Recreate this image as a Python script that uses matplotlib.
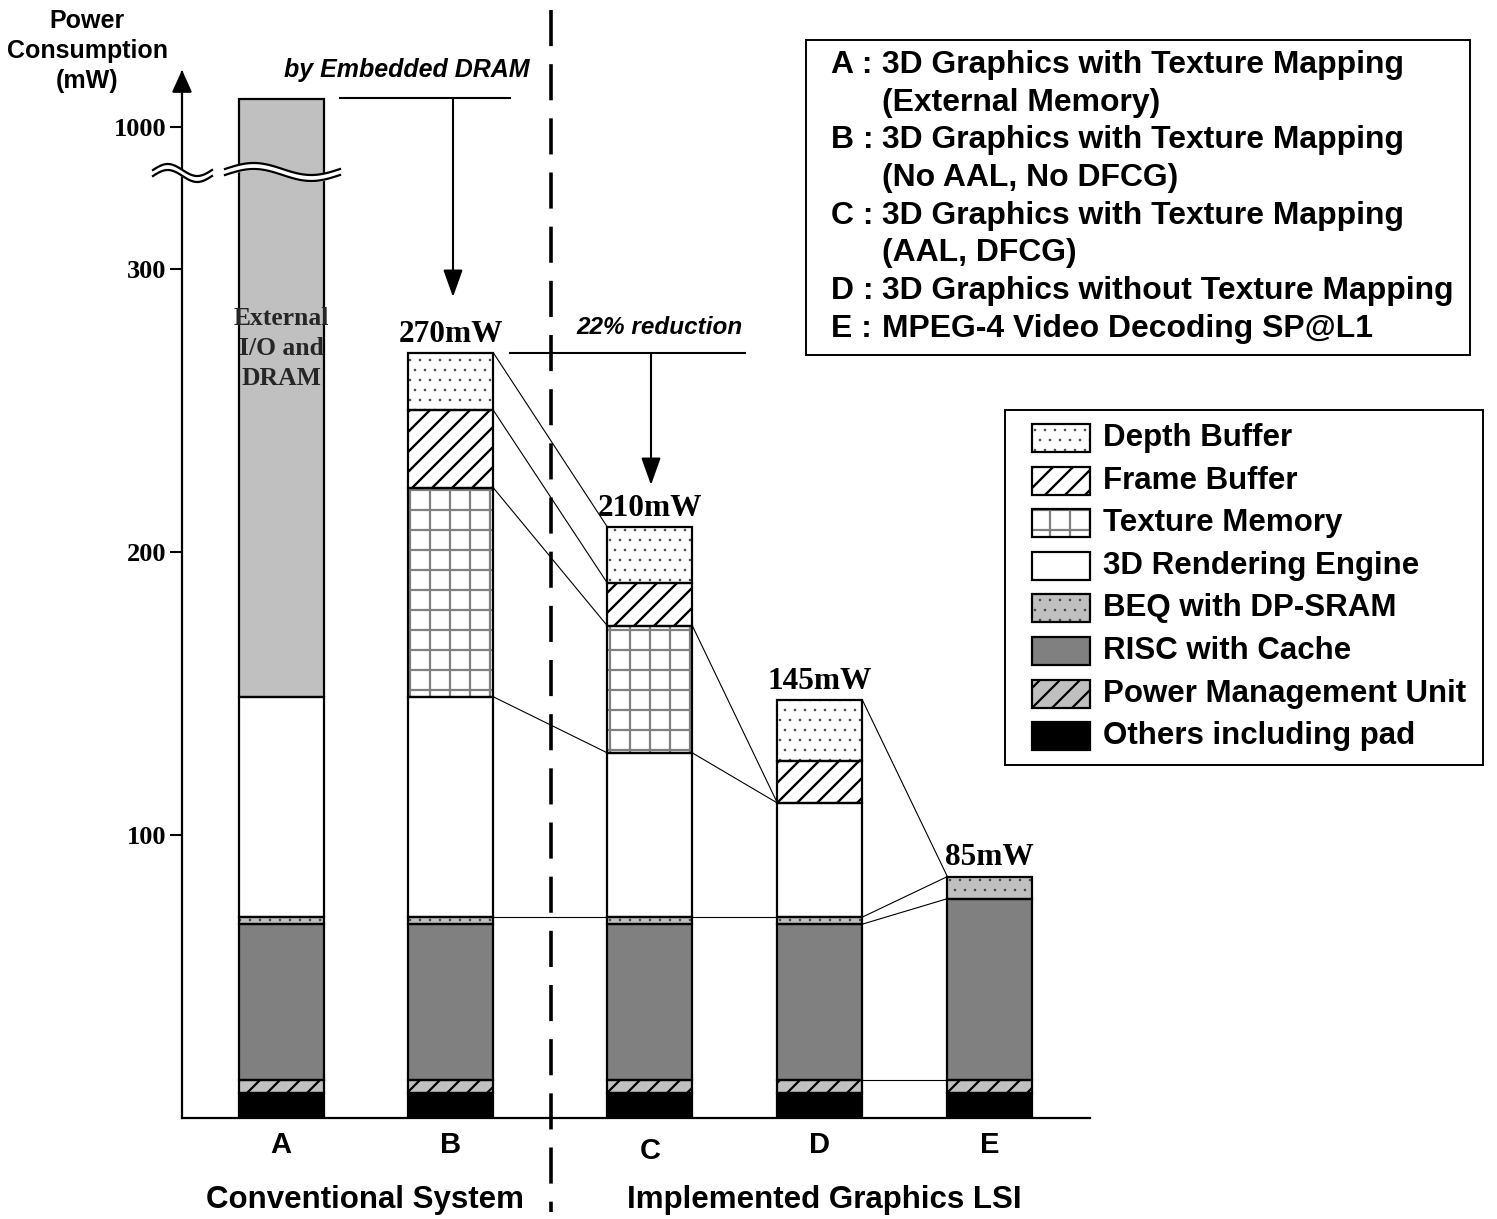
import numpy as np
import matplotlib
matplotlib.use("Agg")
import matplotlib.pyplot as plt
from matplotlib.patches import Rectangle, Polygon

SANS = "Liberation Sans"
SERIF = "Liberation Serif"

# ---- data (mW) ----
bars = ["A", "B", "C", "D", "E"]
others = [9, 9, 9, 9, 9]
pmu = [4.5, 4.5, 4.5, 4.5, 4.5]
risc = [55, 55, 55, 55, 64]
beq = [2.5, 2.5, 2.5, 2.5, 7.8]
rendering = [77.8, 77.8, 58, 40.3, 0]
texture = [0, 73.8, 44.9, 0, 0]
frame = [0, 27.4, 15.1, 14.8, 0]
depth = [0, 20.3, 19.8, 21.6, 0]
external = [891, 0, 0, 0, 0]
total_labels = ["", "270mW", "210mW", "145mW", "85mW"]
yticks = [100, 200, 300, 1000]

layer_names = ["Others including pad", "Power Management Unit", "RISC with Cache",
               "BEQ with DP-SRAM", "3D Rendering Engine", "Texture Memory",
               "Frame Buffer", "Depth Buffer", "External I/O and DRAM"]
layers = [others, pmu, risc, beq, rendering, texture, frame, depth, external]

# (from bar, boundary, to bar, boundary); boundary k = top of layer k
links = [(1, 7, 2, 7), (1, 6, 2, 6), (1, 5, 2, 5), (1, 4, 2, 4), (1, 3, 2, 3),
         (2, 5, 3, 5), (2, 4, 3, 4), (2, 3, 3, 3),
         (3, 7, 4, 7), (3, 3, 4, 3), (3, 2, 4, 2), (3, 1, 4, 1)]

scenarios = [("A :", "3D Graphics with Texture Mapping", "(External Memory)"),
             ("B :", "3D Graphics with Texture Mapping", "(No AAL, No DFCG)"),
             ("C :", "3D Graphics with Texture Mapping", "(AAL, DFCG)"),
             ("D :", "3D Graphics without Texture Mapping", None),
             ("E :", "MPEG-4 Video Decoding SP@L1", None)]

# saved at 120 dpi so the hatch spacing matches; sizes below are scaled by K
DPI = 120
K = 100 / DPI

styles = {
    "Others including pad": dict(fc="black", hatch=None, hc="black", hlw=1),
    "Power Management Unit": dict(fc="#c0c0c0", hatch="//", hc="black", hlw=1.6),
    "RISC with Cache": dict(fc="#808080", hatch=None, hc="black", hlw=1),
    "BEQ with DP-SRAM": dict(fc="#c0c0c0", hatch="..", hc="#404040", hlw=0.4),
    "3D Rendering Engine": dict(fc="white", hatch=None, hc="black", hlw=1),
    "Texture Memory": dict(fc="white", hatch="+", hc="#808080", hlw=1.6),
    "Frame Buffer": dict(fc="white", hatch="//", hc="black", hlw=1.7),
    "Depth Buffer": dict(fc="white", hatch="..", hc="#404040", hlw=0.4),
    "External I/O and DRAM": dict(fc="#c0c0c0", hatch=None, hc="black", hlw=1),
}
legend_order = ["Depth Buffer", "Frame Buffer", "Texture Memory", "3D Rendering Engine",
                "BEQ with DP-SRAM", "RISC with Cache", "Power Management Unit",
                "Others including pad"]

xpos = np.array([0, 1, 2.17, 3.17, 4.17])
width = 0.5
label_dy = [0, 0, -2, 0, 0]


def ybreak(v):
    # linear up to 300, compressed above the axis break
    v = np.asarray(v, dtype=float)
    return np.where(v <= 320, v, 350.2 + (v - 1000) * 0.25)


def hatch_lw(p, lw):
    if hasattr(p, "set_hatch_linewidth"):
        p.set_hatch_linewidth(lw * K)


plt.rcParams["hatch.linewidth"] = 1.5 * K
W, H = 1497, 1219
fig = plt.figure(figsize=(W / DPI, H / DPI), dpi=DPI)
ax = fig.add_axes([182 / W, (H - 1118) / H, (1090 - 182) / W, (1118 - 72) / H])
ax.set_xlim(-0.5824, 4.759)
ax.set_ylim(0, 369.6)

cum = np.zeros((len(layers) + 1, len(bars)))
for k, vals in enumerate(layers):
    cum[k + 1] = cum[k] + np.array(vals)
disp = ybreak(cum)

for k, name in enumerate(layer_names):
    st = styles[name]
    bottom = disp[k]
    height = disp[k + 1] - disp[k]
    mask = np.array(layers[k]) > 0
    if not mask.any():
        continue
    fill = ax.bar(xpos[mask], height[mask], width, bottom=bottom[mask], color=st["fc"],
                  edgecolor=st["hc"], linewidth=0, hatch=st["hatch"], zorder=2)
    for p in fill:
        hatch_lw(p, st["hlw"])
    ax.bar(xpos[mask], height[mask], width, bottom=bottom[mask], facecolor="none",
           edgecolor="black", linewidth=1.6 * K, zorder=3)

for i, ki, j, kj in links:
    ax.plot([xpos[i] + width / 2, xpos[j] - width / 2], [disp[ki + 1][i], disp[kj + 1][j]],
            color="black", lw=0.8 * K, zorder=1)

for i, lab in enumerate(total_labels):
    if lab:
        ax.text(xpos[i], disp[-1][i] + 4, lab, ha="center", va="baseline",
                fontfamily=SERIF, fontweight="bold", fontsize=22.5 * K)

ax.text(xpos[0], 272, "External\nI/O and\nDRAM", ha="center", va="center", linespacing=1.4,
        fontfamily=SERIF, fontweight="bold", fontsize=18.5 * K, color="#262626", zorder=4)

for i, b in enumerate(bars):
    ax.text(xpos[i], -9.5 + label_dy[i], b, ha="center", va="center",
            fontfamily=SANS, fontweight="bold", fontsize=21 * K, clip_on=False)

ax.set_xticks([])
ax.set_yticks(ybreak(yticks))
ax.set_yticklabels([str(t) for t in yticks], fontfamily=SERIF, fontweight="bold",
                   fontsize=19 * K)
ax.tick_params(axis="y", direction="out", length=9 * K, width=1.5 * K, pad=2 * K)
for s in ["top", "right"]:
    ax.spines[s].set_visible(False)
ax.spines["left"].set_linewidth(1.6 * K)
ax.spines["bottom"].set_linewidth(1.6 * K)
ax.patch.set_alpha(0)

# ---- overlay in pixel coordinates for annotations ----
ov = fig.add_axes([0, 0, 1, 1])
ov.set_xlim(0, W)
ov.set_ylim(H, 0)
ov.axis("off")
ov.patch.set_alpha(0)

# y axis arrow head
ov.add_patch(Polygon([[173, 92], [191, 92], [182, 72]], closed=True, fc="black", ec="black"))


def squiggle(x0, x1, yc, amp, gap):
    xs = np.linspace(x0, x1, 80)
    y = yc - amp * np.sin((xs - x0) / (x1 - x0) * 2 * np.pi)
    ov.fill_between(xs, y - gap / 2, y + gap / 2, color="white", zorder=5)
    ov.plot(xs, y - gap / 2, color="black", lw=1.6 * K, zorder=6)
    ov.plot(xs, y + gap / 2, color="black", lw=1.6 * K, zorder=6)


squiggle(153, 212, 173, 6, 6)
squiggle(225, 340, 172, 6, 6)

ov.text(87, 51, "Power\nConsumption\n(mW)", ha="center", va="center", linespacing=1.3,
        fontfamily=SANS, fontweight="bold", fontsize=18 * K)

# dashed separator
ov.plot([551, 551], [10, 1212], color="black", lw=2.6 * K, linestyle=(0, (10, 5)))

# annotations
head = "-|>,head_length=1.4,head_width=0.5"
ov.text(407, 70, "by Embedded DRAM", ha="center", va="center", fontfamily=SANS,
        fontweight="bold", fontstyle="italic", fontsize=18 * K)
ov.plot([340, 510], [98, 98], color="black", lw=1.5 * K)
ov.annotate("", xy=(453, 297), xytext=(453, 98),
            arrowprops=dict(arrowstyle=head, color="black", lw=1.5 * K, shrinkA=0, shrinkB=0))
ov.text(660, 327, "22% reduction", ha="center", va="center", fontfamily=SANS,
        fontweight="bold", fontstyle="italic", fontsize=17.5 * K)
ov.plot([510, 745], [353, 353], color="black", lw=1.5 * K)
ov.annotate("", xy=(651, 485), xytext=(651, 353),
            arrowprops=dict(arrowstyle=head, color="black", lw=1.5 * K, shrinkA=0, shrinkB=0))

ov.text(365, 1200, "Conventional System", ha="center", va="center", fontfamily=SANS,
        fontweight="bold", fontsize=22.5 * K)
ov.text(824, 1200, "Implemented Graphics LSI", ha="center", va="center", fontfamily=SANS,
        fontweight="bold", fontsize=22.5 * K)

# scenario legend
ov.add_patch(Rectangle((806, 40), 664, 315, fc="white", ec="black", lw=1.4 * K))
row = 0
for pre, line1, line2 in scenarios:
    y = 65 + row * 37.7
    ov.text(831, y, pre, ha="left", va="center", fontfamily=SANS, fontweight="bold",
            fontsize=23 * K)
    ov.text(882, y, line1, ha="left", va="center", fontfamily=SANS, fontweight="bold",
            fontsize=23 * K)
    row += 1
    if line2:
        ov.text(882, 65 + row * 37.7, line2, ha="left", va="center", fontfamily=SANS,
                fontweight="bold", fontsize=23 * K)
        row += 1

# component legend
ov.add_patch(Rectangle((1005, 410), 478, 355, fc="white", ec="black", lw=1.4 * K))
for i, name in enumerate(legend_order):
    st = styles[name]
    yc = 438 + i * 42.6
    p = Rectangle((1032, yc - 14), 58, 28, fc=st["fc"], ec=st["hc"], lw=0, hatch=st["hatch"])
    hatch_lw(p, st["hlw"])
    ov.add_patch(p)
    ov.add_patch(Rectangle((1032, yc - 14), 58, 28, fc="none", ec="black", lw=1.6 * K))
    ov.text(1103, yc, name, ha="left", va="center", fontfamily=SANS, fontweight="bold",
            fontsize=22.5 * K)

fig.savefig("out.png", dpi=DPI)
